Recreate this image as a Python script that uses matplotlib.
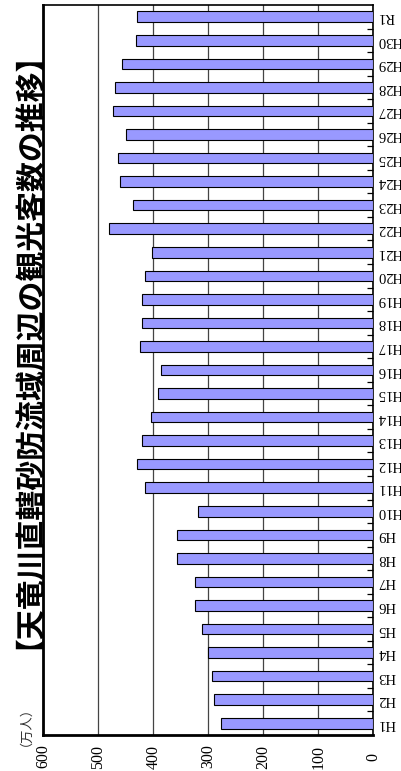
import matplotlib
matplotlib.use("Agg")
import matplotlib.pyplot as plt
from matplotlib.ticker import FixedLocator
import numpy as np

categories = ["H1", "H2", "H3", "H4", "H5", "H6", "H7", "H8", "H9", "H10",
              "H11", "H12", "H13", "H14", "H15", "H16", "H17", "H18", "H19", "H20",
              "H21", "H22", "H23", "H24", "H25", "H26", "H27", "H28", "H29", "H30", "R1"]
visitors = [276, 290, 293, 300, 311, 325, 325, 357, 357, 319,
            415, 429, 421, 405, 391, 386, 424, 421, 421, 415,
            402, 480, 437, 460, 464, 450, 474, 470, 457, 431, 429]
value_ticks = [0, 100, 200, 300, 400, 500, 600]
title = "【天竜川直轄砂防流域周辺の観光客数の推移】"
unit = "（万人）"

W, H = 402, 771
fig = plt.figure(figsize=(W / 100, H / 100), dpi=100)
ax = fig.add_axes([43.3 / W, 1 - 735 / H, (373.3 - 43.3) / W, (735 - 5) / H])

y = np.arange(len(categories))
ax.barh(y, visitors, height=0.45, color="#9999ff", edgecolor="black",
        linewidth=0.8, zorder=3)

ax.set_xlim(600, 0)
ax.set_ylim(-0.5, len(categories) - 0.5)

# gridlines
ax.set_xticks(value_ticks)
ax.xaxis.grid(True, color="#444444", linewidth=0.9, zorder=0)
ax.set_axisbelow(True)

serif = ["Liberation Serif", "DejaVu Serif"]
ax.set_xticklabels([str(v) for v in value_ticks], rotation=90, va="center",
                   ha="center", family=serif, fontsize=11.5)
ax.tick_params(axis="x", length=0, pad=15.5)

# category axis on the right
ax.yaxis.tick_right()
ax.set_yticks(y)
ax.set_yticklabels(categories, rotation=180, family=serif, fontsize=10.5,
                   va="center", ha="left")
ax.tick_params(axis="y", which="major", length=0, pad=3, right=True, left=False)
ax.yaxis.set_minor_locator(FixedLocator(np.arange(0.5, len(categories) - 1, 1)))
ax.tick_params(axis="y", which="minor", direction="in", length=4, width=0.9,
               right=True, left=False, color="black")

for side, lw in [("left", 2.0), ("bottom", 2.0), ("top", 1.2), ("right", 1.2)]:
    ax.spines[side].set_linewidth(lw)
    ax.spines[side].set_color("black")

fig.text(14 / W, 1 - 335 / H, title, rotation=90, ha="center", va="center",
         family=["Noto Sans CJK JP", "DejaVu Sans"], fontweight="bold", fontsize=21.5)
fig.text(19 / W, 1 - 719 / H, unit, rotation=90, ha="center", va="center",
         family=["Noto Sans CJK JP", "DejaVu Sans"], fontsize=9.5, color="#333333")

fig.savefig("out.png", dpi=100)
